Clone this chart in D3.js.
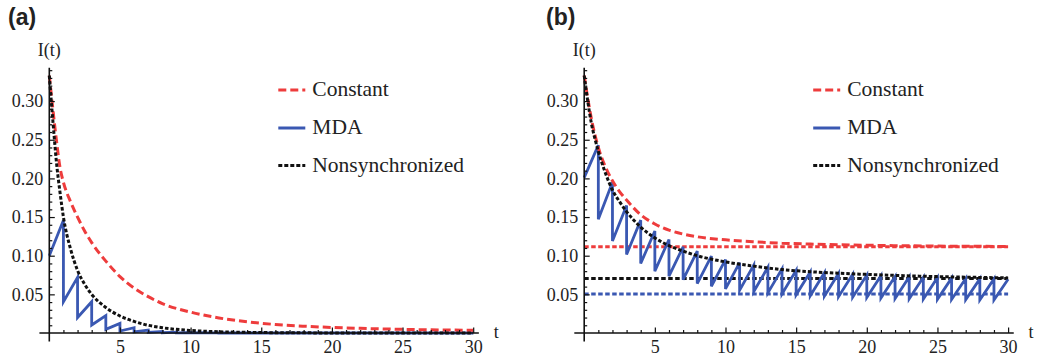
<!DOCTYPE html>
<html>
<head>
<meta charset="utf-8">
<script src="https://cdn.jsdelivr.net/npm/d3@7"></script>
<style>
  body { margin: 0; background: #fff; }
  svg { display: block; }
</style>
</head>
<body>
<div id="canvas"></div>
<script>
// ---- data ----
var panels = ['(a)', '(b)'];
var seriesNames = ['Constant', 'MDA', 'Nonsynchronized'];
var xTicks = [5, 10, 15, 20, 25, 30];
var yTicks = [0.05, 0.10, 0.15, 0.20, 0.25, 0.30];

// sample times for the smooth curves
var tGrid = [0, 0.25, 0.5, 0.75, 1, 1.5, 2, 2.5, 3, 4, 5, 6, 7, 8, 10, 12, 14, 16, 18, 20, 22, 24, 26, 28, 30];

// panel (a)
var constantA = [0.333, 0.290, 0.250, 0.215, 0.195, 0.170, 0.150, 0.132, 0.117, 0.093, 0.073, 0.058, 0.047, 0.038,
                 0.027, 0.0195, 0.0145, 0.011, 0.0088, 0.0072, 0.006, 0.0051, 0.0044, 0.0039, 0.0035];
var nonsyncA = [0.333, 0.275, 0.222, 0.183, 0.150, 0.109, 0.081, 0.063, 0.050, 0.033, 0.022, 0.015, 0.010, 0.0068,
                0.0033, 0.0016, 0.0008, 0.0004, 0.0002, 0.0001, 0, 0, 0, 0, 0];
var mdaStartA = 0.100;
var mdaPeakA = [0.146, 0.072, 0.0405, 0.0224, 0.0125, 0.0068, 0.0037, 0.002, 0.0011, 0.0006, 0.0003, 0.0002, 0.0001,
                0, 0, 0, 0, 0, 0, 0, 0, 0, 0, 0, 0, 0, 0, 0, 0, 0];
var mdaDropA = [0.0405, 0.020, 0.0103, 0.0047, 0.0025, 0.0013, 0.0007, 0.0004, 0.0002, 0.0001, 0.0001, 0, 0,
                0, 0, 0, 0, 0, 0, 0, 0, 0, 0, 0, 0, 0, 0, 0, 0];

// panel (b)
var constantB = [0.333, 0.304, 0.278, 0.257, 0.240, 0.215, 0.197, 0.183, 0.172, 0.153, 0.141, 0.133, 0.128, 0.1245,
                 0.1205, 0.118, 0.1162, 0.115, 0.1141, 0.1135, 0.113, 0.1126, 0.1123, 0.1121, 0.112];
var nonsyncB = [0.333, 0.300, 0.272, 0.252, 0.235, 0.207, 0.185, 0.170, 0.157, 0.137, 0.123, 0.113, 0.106, 0.100,
                0.092, 0.0865, 0.082, 0.0793, 0.0773, 0.0758, 0.0745, 0.0734, 0.0726, 0.0719, 0.0713];
var mdaStartB = 0.201;
var mdaPeakB = [0.243, 0.195, 0.165, 0.146, 0.132, 0.121, 0.1115, 0.106, 0.0995, 0.095, 0.091, 0.088, 0.085, 0.083,
                0.081, 0.079, 0.078, 0.077, 0.076, 0.075, 0.074, 0.073, 0.0725, 0.072, 0.0715, 0.071, 0.0705, 0.070,
                0.070, 0.0695];
var mdaDropB = [0.147, 0.119, 0.1015, 0.090, 0.080, 0.0735, 0.069, 0.064, 0.0605, 0.057, 0.0555, 0.0537, 0.0519,
                0.0506, 0.0494, 0.0482, 0.0476, 0.047, 0.0464, 0.0458, 0.0451, 0.0445, 0.0442, 0.0439, 0.0436, 0.0433,
                0.043, 0.0427, 0.0427];
// equilibrium levels drawn in (b): constant, MDA, nonsynchronized
var levelsB = [0.1115, 0.0505, 0.0705];

// ---- layout ----
var W = 1037, H = 362;
var red = '#ee3c3c', blue = '#3a58b2', black = '#111';
var colors = [red, blue, black];
var SERIF = '"Liberation Serif", serif';

var svg = d3.select('#canvas').append('svg')
    .attr('width', W).attr('height', H)
    .style('font-family', SERIF);
svg.append('rect').attr('width', W).attr('height', H).attr('fill', '#fff');

var x = d3.scaleLinear().domain([0, 30]).range([0, 423.9]);
var y = d3.scaleLinear().domain([0, 0.3]).range([333, 101.1]);

var curve = d3.line()
    .x(function(d){ return x(d[0]); })
    .y(function(d){ return y(d[1]); })
    .curve(d3.curveMonotoneX);
var straight = d3.line()
    .x(function(d){ return x(d[0]); })
    .y(function(d){ return y(d[1]); });

// MDA: rises between pulses, drops at every integer t
function sawtooth(start, peaks, drops){
    var pts = [[0, start]];
    peaks.forEach(function(p, i){
        pts.push([i + 1, p]);
        if (i < drops.length) pts.push([i + 1, drops[i]]);
    });
    return pts;
}

function serifText(sel, size){
    return sel.style('font-family', SERIF).style('font-size', size + 'px').attr('fill', '#222');
}

function drawPanel(off, letter, letterX, constant, nonsync, mda, levels){
    var g = svg.append('g').attr('transform', 'translate(' + off + ',0)');

    // panel letter
    svg.append('text').attr('x', letterX).attr('y', 25)
        .style('font-family', '"Liberation Sans", Arial, sans-serif')
        .style('font-weight', 'bold').style('font-size', '23px').attr('fill', '#222')
        .text(letter);

    // equilibrium lines (panel b only)
    if (levels) {
        levels.forEach(function(v, i){
            g.append('path')
                .attr('d', straight([[0, v], [30, v]]))
                .attr('fill', 'none').attr('stroke', colors[i])
                .attr('stroke-width', 3).attr('stroke-dasharray', '4.5,2.5');
        });
    }

    // MDA sawtooth
    g.append('path').attr('d', straight(mda))
        .attr('fill', 'none').attr('stroke', blue)
        .attr('stroke-width', 2.8).attr('stroke-linejoin', 'miter');

    // constant & nonsynchronized curves
    g.append('path').attr('d', curve(tGrid.map(function(t, i){ return [t, constant[i]]; })))
        .attr('fill', 'none').attr('stroke', red)
        .attr('stroke-width', 3).attr('stroke-dasharray', '8,4');
    g.append('path').attr('d', curve(tGrid.map(function(t, i){ return [t, nonsync[i]]; })))
        .attr('fill', 'none').attr('stroke', black)
        .attr('stroke-width', 3).attr('stroke-dasharray', '3.5,2');

    // axes lines
    g.append('line').attr('x1', x(-0.7)).attr('x2', x(30.4))
        .attr('y1', y(0)).attr('y2', y(0)).attr('stroke', '#111').attr('stroke-width', 1.6);
    g.append('line').attr('x1', x(0)).attr('x2', x(0))
        .attr('y1', y(-0.011)).attr('y2', y(0.343)).attr('stroke', '#111').attr('stroke-width', 1.6);

    // y ticks (minor every 0.01, labelled every 0.05)
    var yMinor = d3.range(1, 35).map(function(i){ return i / 100; })
        .filter(function(v){ return Math.round(v * 100) % 5 !== 0; });
    g.append('g').call(d3.axisLeft(y).tickValues(yMinor).tickFormat('').tickSizeInner(-3).tickSizeOuter(0))
        .call(function(a){ a.select('.domain').remove(); });
    g.append('g').call(d3.axisLeft(y).tickValues(yTicks).tickFormat(d3.format('.2f'))
            .tickSizeInner(-5.5).tickSizeOuter(0).tickPadding(6))
        .call(function(a){ a.select('.domain').remove(); });

    // x ticks (minor every 1, labelled every 5)
    var xMinor = d3.range(1, 31).filter(function(v){ return v % 5 !== 0; });
    g.append('g').attr('transform', 'translate(0,' + y(0) + ')')
        .call(d3.axisBottom(x).tickValues(xMinor).tickFormat('').tickSizeInner(-3).tickSizeOuter(0))
        .call(function(a){ a.select('.domain').remove(); });
    g.append('g').attr('transform', 'translate(0,' + y(0) + ')')
        .call(d3.axisBottom(x).tickValues(xTicks).tickFormat(d3.format('d'))
            .tickSizeInner(-5.5).tickSizeOuter(0).tickPadding(7))
        .call(function(a){ a.select('.domain').remove(); });

    g.selectAll('g').attr('font-family', null).style('font-family', SERIF);
    g.selectAll('.tick line').attr('stroke', '#111').attr('stroke-width', 1.2);
    serifText(g.selectAll('.tick text'), 18);

    // axis titles
    serifText(g.append('text').attr('x', x(0)).attr('y', 56).attr('text-anchor', 'middle'), 18).text('I(t)');
    serifText(g.append('text').attr('x', x(30) + 23).attr('y', 338).attr('text-anchor', 'middle'), 18).text('t');

    // legend
    var legendY = [90, 128, 165.5];
    var dashes = ['8,4', null, '4,2'];
    seriesNames.forEach(function(name, i){
        g.append('line').attr('x1', 229).attr('x2', 256)
            .attr('y1', legendY[i]).attr('y2', legendY[i])
            .attr('stroke', colors[i]).attr('stroke-width', 3)
            .attr('stroke-dasharray', dashes[i]);
        serifText(g.append('text').attr('x', 263).attr('y', legendY[i] + 6), 21.5).text(name);
    });
}

drawPanel(49.3, panels[0], 8, constantA, nonsyncA, sawtooth(mdaStartA, mdaPeakA, mdaDropA), null);
drawPanel(584.2, panels[1], 546, constantB, nonsyncB, sawtooth(mdaStartB, mdaPeakB, mdaDropB), levelsB);
</script>
</body>
</html>
